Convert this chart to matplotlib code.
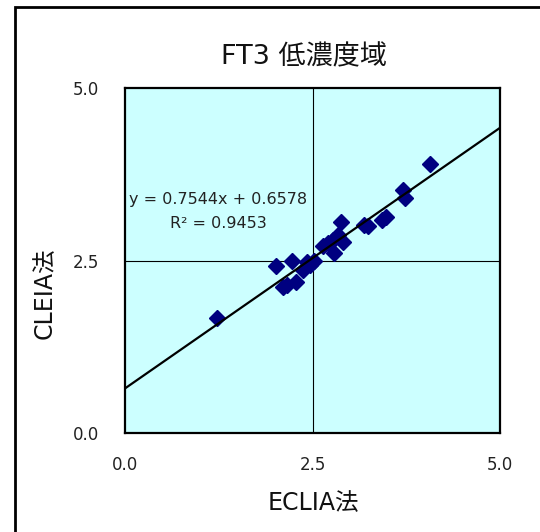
import matplotlib
matplotlib.use("Agg")
import matplotlib.pyplot as plt
from matplotlib.patches import Rectangle

plt.rcParams['font.family'] = ['DejaVu Sans', 'Noto Sans CJK JP']

# ECLIA法 (x) vs CLEIA法 (y)
eclia = [1.22, 2.01, 2.10, 2.15, 2.22, 2.27, 2.37, 2.42, 2.47, 2.52,
         2.64, 2.70, 2.77, 2.79, 2.84, 2.88, 2.90, 3.19, 3.24, 3.42,
         3.48, 3.70, 3.73, 4.07]
cleia = [1.67, 2.43, 2.13, 2.15, 2.50, 2.19, 2.37, 2.49, 2.44, 2.50,
         2.72, 2.76, 2.80, 2.62, 2.88, 3.07, 2.78, 3.02, 3.00, 3.10,
         3.14, 3.53, 3.41, 3.91]

slope = 0.7544
intercept = 0.6578
r2 = 0.9453
ticks = [0.0, 2.5, 5.0]

fig = plt.figure(figsize=(5.4, 5.32), dpi=100)
ax = fig.add_axes([0.2324, 0.1852, 0.6935, 0.6485])
ax.set_facecolor('#ccffff')

ax.axvline(2.5, color='black', lw=0.8, zorder=1)
ax.axhline(2.5, color='black', lw=0.8, zorder=1)

ax.plot(eclia, cleia, 'D', color='#000080', ms=8.5, mec='#000080', zorder=3, clip_on=False)
ax.plot([0, 5], [intercept, slope * 5 + intercept], color='black', lw=1.6, zorder=4)

ax.set_xlim(0, 5)
ax.set_ylim(0, 5)
ax.set_xticks(ticks)
ax.set_yticks(ticks)
ax.set_xticklabels(['%.1f' % t for t in ticks], fontsize=12, color='#222222')
ax.set_yticklabels(['%.1f' % t for t in ticks], fontsize=12, color='#222222')
ax.tick_params(length=0)
ax.tick_params(axis='x', pad=16)
ax.tick_params(axis='y', pad=19)
for s in ax.spines.values():
    s.set_linewidth(1.6)

ax.text(1.24, 3.21, 'y = %.4fx + %.4f\nR² = %.4f' % (slope, intercept, r2),
        ha='center', va='center', fontsize=11.5, linespacing=1.75, color='#222222')

fig.text(304 / 540, 1 - 57 / 532, 'FT3 低濃度域', ha='center', va='center', fontsize=19.5, color='#111111')
fig.text(313 / 540, 1 - 503 / 532, 'ECLIA法', ha='center', va='center', fontsize=17, color='#111111')
fig.text(45 / 540, 1 - 293 / 532, 'CLEIA法', ha='center', va='center', fontsize=17, rotation=90, color='#111111')

fig.patches.append(Rectangle((15 / 540, -0.1), 1.2, 1.1 - 6.5 / 532, transform=fig.transFigure,
                             fill=False, lw=2, edgecolor='black'))

fig.savefig('out.png', dpi=100)
